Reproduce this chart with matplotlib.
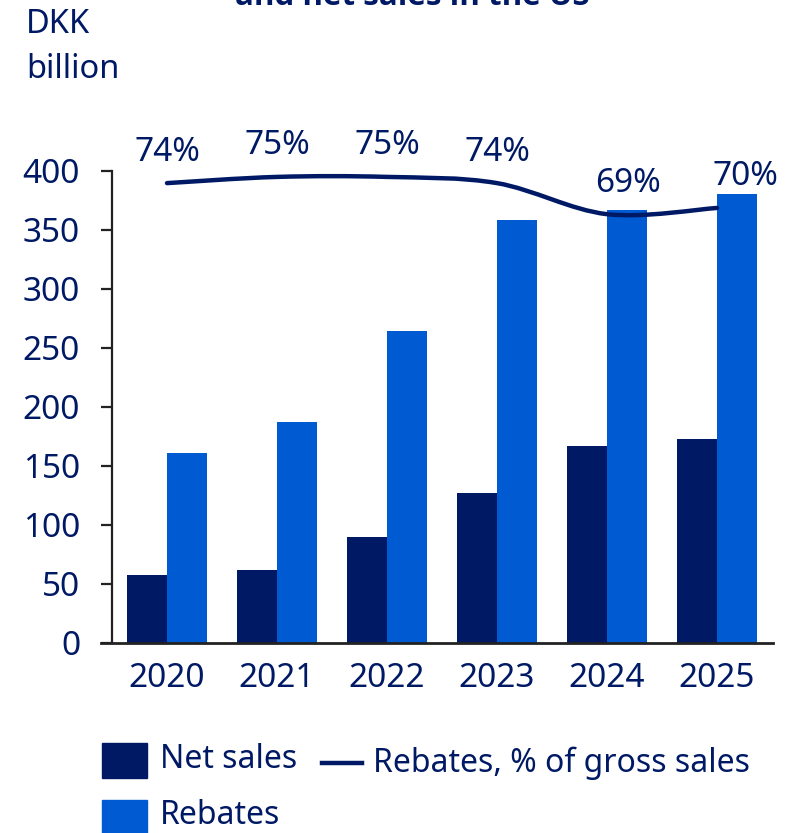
import matplotlib.pyplot as plt
import numpy as np
from matplotlib.path import Path
from matplotlib.patches import PathPatch, Rectangle
from matplotlib.lines import Line2D

plt.rcParams['font.family'] = ['Noto Sans', 'DejaVu Sans']

# data
years = ['2020', '2021', '2022', '2023', '2024', '2025']
net_sales = [57, 62, 90, 127, 167, 173]
rebates = [161, 187, 264, 358, 367, 380]
rebate_pct = [74, 75, 75, 74, 69, 70]
pct_labels = ['74%', '75%', '75%', '74%', '69%', '70%']

NAVY = '#001965'
BLUE = '#005AD2'
W, H = 802, 833
FS = 23.5


def fx(px):
    return px / W


def fy(py):
    return 1 - py / H


fig = plt.figure(figsize=(W / 100, H / 100), dpi=100)
ax = fig.add_axes([fx(101), fy(642.7), fx(773) - fx(101), fy(170.7) - fy(642.7)])

x = np.arange(len(years))
bw = 0.36
ax.bar(x - bw / 2, net_sales, bw, color=NAVY, linewidth=0, zorder=2)
ax.bar(x + bw / 2, rebates, bw, color=BLUE, linewidth=0, zorder=2)

ax.set_xlim(-0.6, 5.509)
ax.set_ylim(0, 400)
ax.set_yticks(range(0, 401, 50))
ax.set_xticks(x)
ax.set_xticklabels(years)

for s in ['top', 'right']:
    ax.spines[s].set_visible(False)
ax.spines['left'].set_position(('axes', 11 / 672))
ax.spines['left'].set_color('#222222')
ax.spines['bottom'].set_color('#222222')
ax.spines['left'].set_linewidth(1.6)
ax.spines['bottom'].set_linewidth(2.0)
ax.tick_params(axis='y', length=8, width=1.6, color='#222222', labelsize=24,
               labelcolor=NAVY, pad=15)
ax.tick_params(axis='x', length=0, labelsize=24, labelcolor=NAVY, pad=14)

# rebates % on hidden secondary axis, smoothed with catmull-rom bezier
ax2 = ax.twinx()
ax2.set_ylim(0, 76)
ax2.axis('off')
pts = np.column_stack([x, rebate_pct]).astype(float)
verts = [tuple(pts[0])]
codes = [Path.MOVETO]
for i in range(len(pts) - 1):
    p0 = pts[max(i - 1, 0)]
    p1 = pts[i]
    p2 = pts[i + 1]
    p3 = pts[min(i + 2, len(pts) - 1)]
    c1 = p1 + (p2 - p0) / 6
    c2 = p2 - (p3 - p1) / 6
    verts += [tuple(c1), tuple(c2), tuple(p2)]
    codes += [Path.CURVE4] * 3
ax2.add_patch(PathPatch(Path(verts, codes), facecolor='none', edgecolor=NAVY,
                        linewidth=3.2, capstyle='round', zorder=3))

label_dx = [0, 0, 0, 0, 21, 28]
for xi, v, t, dx in zip(x, rebate_pct, pct_labels, label_dx):
    ax2.annotate(t, (xi, v), xytext=(dx, 31), textcoords='offset pixels',
                 ha='center', va='center', fontsize=24, color=NAVY)

# unit label and (cropped) title
fig.text(fx(26), fy(33), 'DKK', fontsize=FS, color=NAVY, ha='left', va='baseline')
fig.text(fx(26), fy(78), 'billion', fontsize=FS, color=NAVY, ha='left', va='baseline')
fig.text(fx(412), fy(5), 'and net sales in the US', fontsize=22.5, fontweight='bold',
         family=['Open Sans', 'DejaVu Sans'], color=NAVY, ha='center', va='baseline')

# legend
fig.add_artist(Rectangle((fx(102), fy(778)), fx(45), 35 / H, color=NAVY,
                         transform=fig.transFigure))
fig.add_artist(Rectangle((fx(102), fy(834)), fx(45), 34 / H, color=BLUE,
                         transform=fig.transFigure))
fig.add_artist(Line2D([fx(322), fx(362)], [fy(763), fy(763)], color=NAVY,
                      linewidth=3.2, transform=fig.transFigure))
fig.text(fx(160), fy(760), 'Net sales', fontsize=23, color=NAVY, ha='left', va='center')
fig.text(fx(373), fy(763), 'Rebates, % of gross sales', fontsize=23, color=NAVY,
         ha='left', va='center')
fig.text(fx(160), fy(816), 'Rebates', fontsize=23, color=NAVY, ha='left', va='center')

fig.savefig('out.png', dpi=100)
